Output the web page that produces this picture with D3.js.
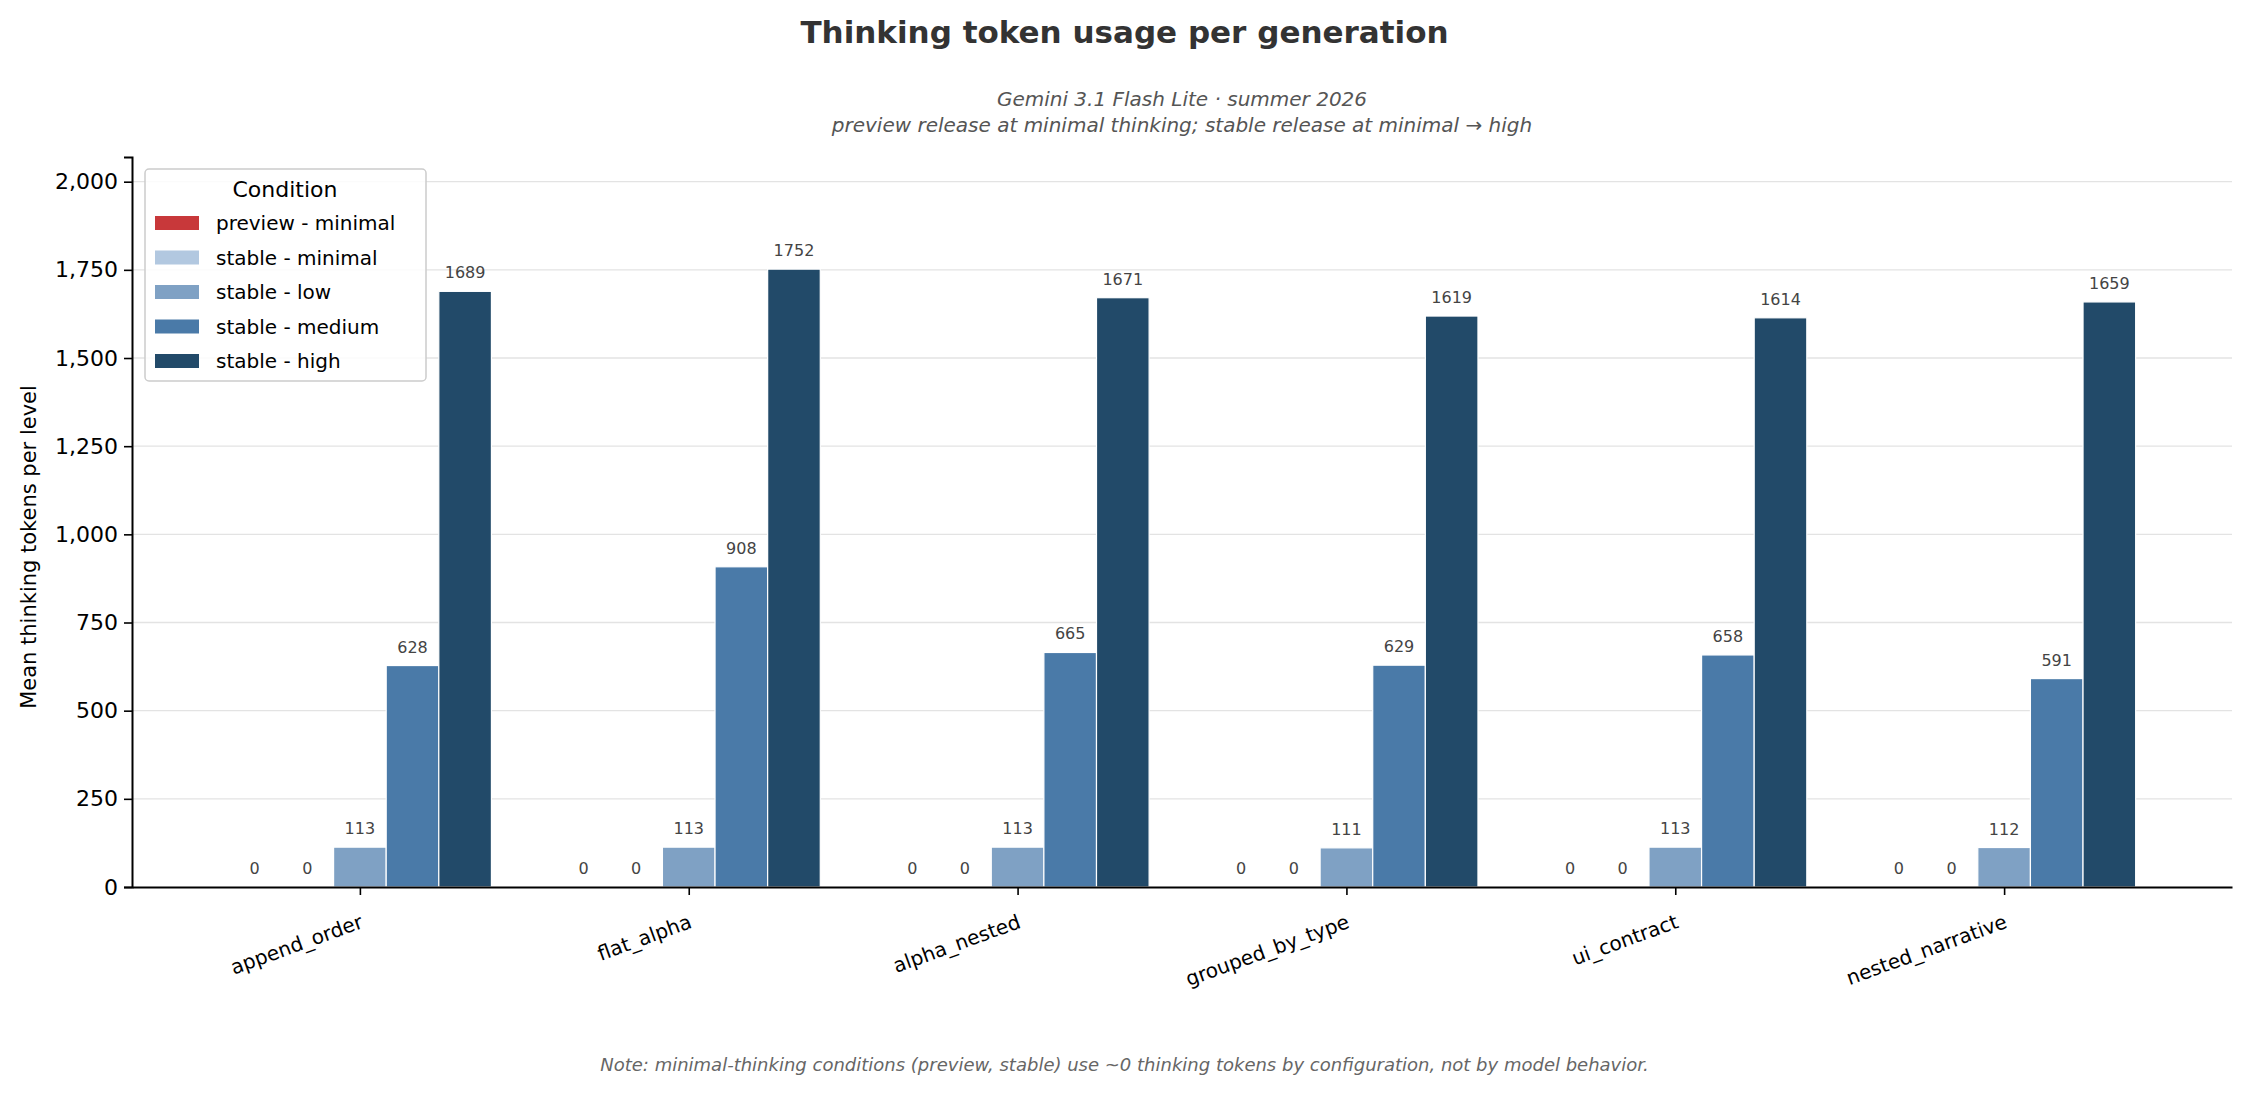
<!DOCTYPE html>
<html>
<head>
<meta charset="utf-8">
<script src="https://cdn.jsdelivr.net/npm/d3@7"></script>
<style>
  body { margin: 0; background: #fff; }
  text { font-family: "DejaVu Sans", sans-serif; }
</style>
</head>
<body>
<svg id="root"></svg>
<script>
const categories = ["append_order", "flat_alpha", "alpha_nested", "grouped_by_type", "ui_contract", "nested_narrative"];
const conditions = ["preview - minimal", "stable - minimal", "stable - low", "stable - medium", "stable - high"];
const colors = ["#c8383a", "#b2c8e0", "#7fa1c4", "#4a7aa8", "#224a69"];
const previewMinimal = [0, 0, 0, 0, 0, 0];
const stableMinimal = [0, 0, 0, 0, 0, 0];
const stableLow = [113, 113, 113, 111, 113, 112];
const stableMedium = [628, 908, 665, 629, 658, 591];
const stableHigh = [1689, 1752, 1671, 1619, 1614, 1659];
const series = [previewMinimal, stableMinimal, stableLow, stableMedium, stableHigh];
const yTicks = [0, 250, 500, 750, 1000, 1250, 1500, 1750, 2000];

const width = 2249, height = 1093;
const m = { left: 132, right: 2232, top: 157, bottom: 887 };
const svg = d3.select("svg#root").attr("width", width).attr("height", height);

const x = d3.scaleLinear().domain([-0.693, categories.length - 1 + 0.693]).range([m.left, m.right]);
const y = d3.scaleLinear().domain([0, 2070]).range([m.bottom, m.top]);
const barW = 0.16;

// grid
svg.append("g").selectAll("line").data(yTicks.filter(d => d > 0)).join("line")
  .attr("x1", m.left).attr("x2", m.right)
  .attr("y1", d => y(d)).attr("y2", d => y(d))
  .attr("stroke", "#e3e3e3").attr("stroke-width", 1.3);

// bars
series.forEach((vals, si) => {
  const off = (si - 2) * barW;
  const g = svg.append("g");
  g.selectAll("rect").data(vals).join("rect")
    .attr("x", (d, i) => x(i + off - barW / 2))
    .attr("width", x(barW) - x(0))
    .attr("y", d => y(d))
    .attr("height", d => y(0) - y(d))
    .attr("fill", colors[si])
    .attr("stroke", "#fff").attr("stroke-width", 1.2);
  g.selectAll("text").data(vals).join("text")
    .attr("x", (d, i) => x(i + off))
    .attr("y", d => y(d) - 13)
    .attr("text-anchor", "middle")
    .attr("font-size", 16).attr("fill", "#444")
    .text(d => d);
});

// y axis
const ya = svg.append("g").attr("transform", `translate(${m.left},0)`)
  .call(d3.axisLeft(y).tickValues(yTicks).tickSize(8).tickPadding(6));
ya.select(".domain").attr("stroke", "#000").attr("stroke-width", 2);
ya.selectAll(".tick line").attr("stroke-width", 1.6);
ya.selectAll("text").attr("font-size", 22).attr("fill", "#000").attr("font-family", "DejaVu Sans");

// x axis
const xa = svg.append("g").attr("transform", `translate(0,${m.bottom})`)
  .call(d3.axisBottom(x).tickValues(d3.range(categories.length)).tickSize(8).tickSizeOuter(0).tickFormat(i => categories[i]));
xa.select(".domain").attr("stroke", "#000").attr("stroke-width", 2);
xa.selectAll(".tick line").attr("stroke-width", 1.6);
xa.selectAll("text").attr("font-size", 20).attr("fill", "#000").attr("font-family", "DejaVu Sans")
  .attr("text-anchor", "end").attr("dy", 0)
  .attr("transform", "translate(0,30) rotate(-20)");

// y label
svg.append("text").attr("transform", `translate(36,${(m.top + m.bottom) / 2 + 25}) rotate(-90)`)
  .attr("text-anchor", "middle").attr("font-size", 21).text("Mean thinking tokens per level");

// titles
svg.append("text").attr("x", width / 2).attr("y", 43).attr("text-anchor", "middle")
  .attr("font-size", 31).attr("font-weight", "bold").attr("fill", "#333")
  .text("Thinking token usage per generation");
svg.append("text").attr("x", 1182).attr("y", 106).attr("text-anchor", "middle")
  .attr("font-size", 20).attr("font-style", "italic").attr("fill", "#555")
  .text("Gemini 3.1 Flash Lite  ·  summer 2026");
svg.append("text").attr("x", 1182).attr("y", 132).attr("text-anchor", "middle")
  .attr("font-size", 20).attr("font-style", "italic").attr("fill", "#555")
  .text("preview release at minimal thinking; stable release at minimal → high");
svg.append("text").attr("x", width / 2).attr("y", 1071).attr("text-anchor", "middle")
  .attr("font-size", 18).attr("font-style", "italic").attr("fill", "#666")
  .text("Note: minimal-thinking conditions (preview, stable) use ~0 thinking tokens by configuration, not by model behavior.");

// legend
const lg = svg.append("g").attr("transform", "translate(145,169)");
lg.append("rect").attr("width", 281).attr("height", 212).attr("rx", 4)
  .attr("fill", "#fff").attr("fill-opacity", 0.85).attr("stroke", "#ccc").attr("stroke-width", 1.5);
lg.append("text").attr("x", 140).attr("y", 28).attr("text-anchor", "middle").attr("font-size", 22).text("Condition");
conditions.forEach((c, i) => {
  const yy = 54 + i * 34.5;
  lg.append("rect").attr("x", 10).attr("y", yy - 7).attr("width", 44).attr("height", 14).attr("fill", colors[i]);
  lg.append("text").attr("x", 71).attr("y", yy + 7).attr("font-size", 20).text(c);
});
</script>
</body>
</html>
